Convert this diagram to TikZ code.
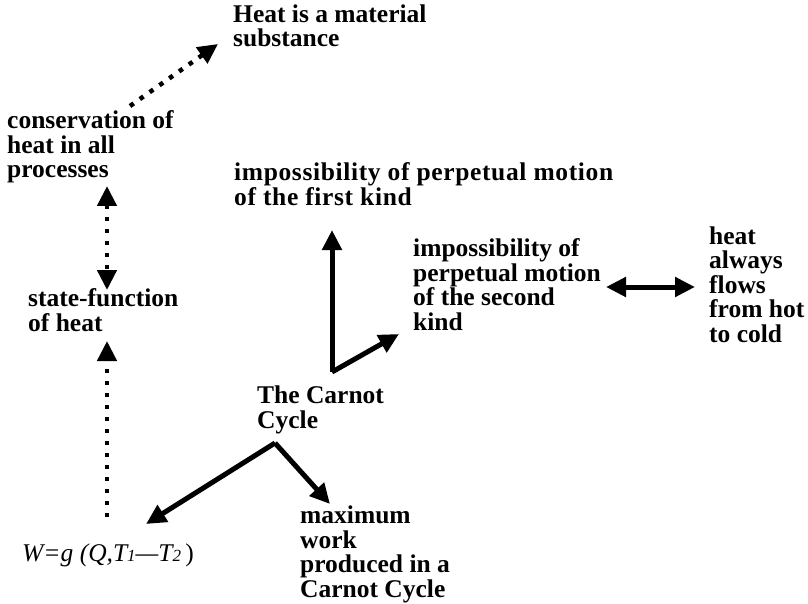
\documentclass[tikz,border=0pt]{standalone}
\usepackage{fontspec}
\setmainfont{Liberation Serif}
\usetikzlibrary{arrows.meta}
\tikzset{
  lbl/.style={anchor=base west, inner sep=0pt, align=left, font=\fontsize{25.5}{24.5}\selectfont\bfseries},
  solidarrow/.style={line width=5pt, -{Triangle[length=20pt,width=19pt]}},
  dotarrow/.style={line width=4.5pt, dash pattern=on 4.5pt off 7.5pt, -{Triangle[length=20pt,width=19pt]}},
}
\begin{document}
\begin{tikzpicture}[x=1pt,y=-1pt]
\useasboundingbox (0,0) rectangle (808,604);
% anchors are at the baseline of the last line
\node[lbl] (heat) at (233,47) {Heat is a material\\substance};
\node[lbl] (cons) at (7,178) {conservation of\\heat in all\\processes};
\node[lbl] (state) at (28,331) {state-function\\of heat};
\node[anchor=base west, inner sep=0pt, font=\fontsize{25.5}{24.5}\selectfont\itshape] (form) at (22,561) {W=g (Q,T{\fontsize{17}{17}\selectfont 1}---T{\fontsize{17}{17}\selectfont 2}\,\upshape)};
\node[lbl] (carnot) at (257,428) {The Carnot\\Cycle};
\node[lbl, font=\fontsize{25.5}{24.5}\selectfont\bfseries\addfontfeature{LetterSpace=2.5}] (first) at (234,205) {impossibility of perpetual motion\\of the first kind};
\node[lbl] (second) at (413,330) {impossibility of\\perpetual motion\\of the second\\kind};
\node[lbl] (hot) at (709,342) {heat\\always\\flows\\from hot\\to cold};
\node[lbl] (max) at (300,597) {maximum\\work\\produced in a\\Carnot Cycle};

\coordinate (c1) at (332,372);
\coordinate (c2) at (275,443);
\coordinate (t1) at (332,230);
\coordinate (t2) at (399,334);
\coordinate (t3) at (146,524);
\coordinate (t4) at (330,504);
\coordinate (d1) at (130,106);
\coordinate (d1t) at (218,44);
\coordinate (d2a) at (107,186);
\coordinate (d2b) at (107,290);
\coordinate (d3a) at (107,517);
\coordinate (d3t) at (107,341);
\coordinate (h1) at (606,287);
\coordinate (h2) at (695,287);

\draw[solidarrow] (c1) -- (t1);
\draw[solidarrow] (c1) -- (t2);
\draw[solidarrow] (c2) -- (t3);
\draw[solidarrow] (c2) -- (t4);
\draw[line width=5pt, {Triangle[length=20pt,width=19pt]}-{Triangle[length=20pt,width=19pt]}] (h1) -- (h2);
\draw[dotarrow] (d1) -- (d1t);
\draw[dotarrow, {Triangle[length=20pt,width=19pt]}-{Triangle[length=20pt,width=19pt]}] (d2a) -- (d2b);
\draw[dotarrow] (d3a) -- (d3t);
\end{tikzpicture}
\end{document}
